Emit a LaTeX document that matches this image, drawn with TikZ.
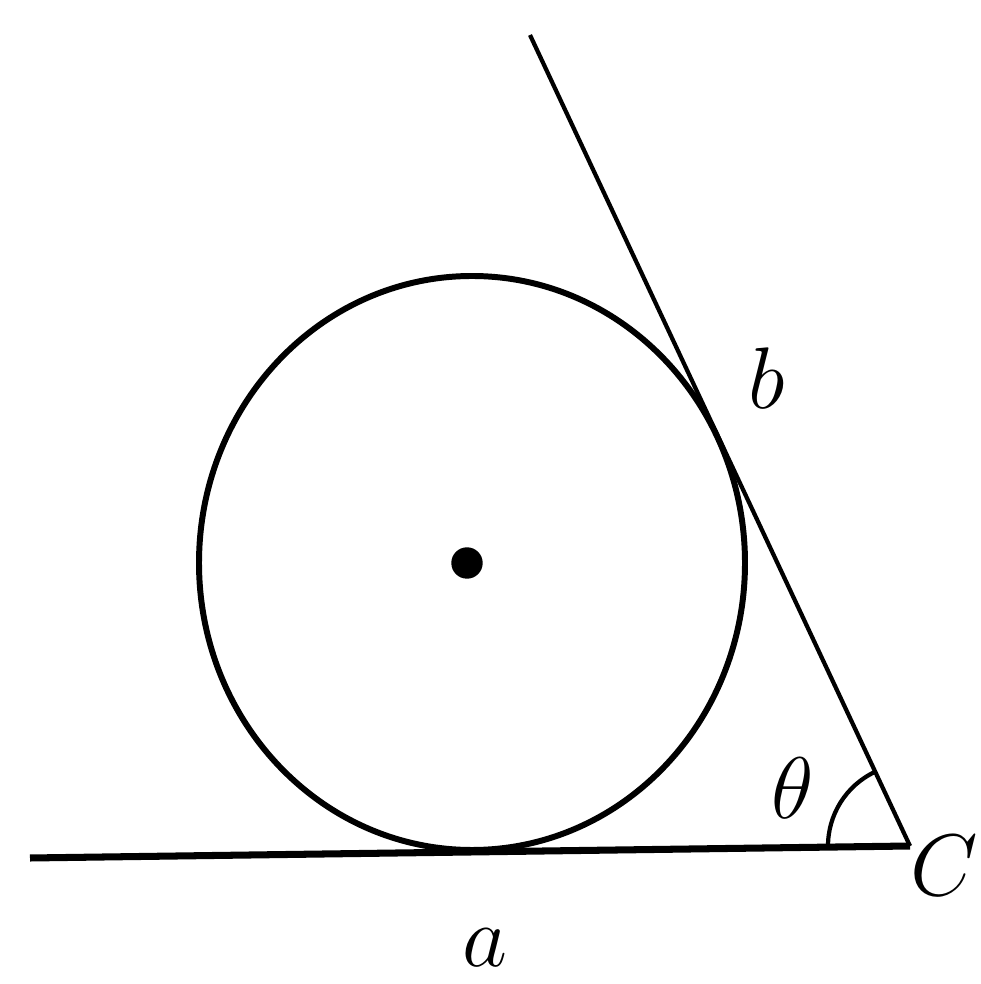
\documentclass[tikz,border=0pt]{standalone}
\usepackage{tikz}
\usepackage{amsmath}
\usepackage{xcolor}
\usetikzlibrary{arrows,positioning}

\begin{document}
\begin{tikzpicture}[every node/.style={font=\fontsize{28}{34}\selectfont}]
\useasboundingbox (0,0) rectangle (9.80,9.84);
\coordinate (C) at (9.10,1.38);
\coordinate (L) at (0.30,1.26);
\coordinate (T) at (5.30,9.49);
\coordinate (O) at (4.72,4.21);
\draw [line width=1.7pt] (O) ellipse [x radius=2.73, y radius=2.87];
\draw [fill] (4.67,4.21) coordinate (dot) circle [radius=0.15];
\draw [line width=2pt] (L) -- (C);
\draw [line width=1.2pt] (C) -- (T);
\draw [line width=1.2pt] ([shift={(180.8:0.82)}]C) arc [start angle=180.8, end angle=115.1, radius=0.82];
\node (theta) at (7.93,1.96) {$\theta$};
\node [anchor=east,inner sep=0pt] (labC) at (9.79,1.18) {$C$};
\node (laba) at (4.85,0.36) {$a$};
\node (labb) at (7.67,6.06) {$b$};
\end{tikzpicture}
\end{document}
